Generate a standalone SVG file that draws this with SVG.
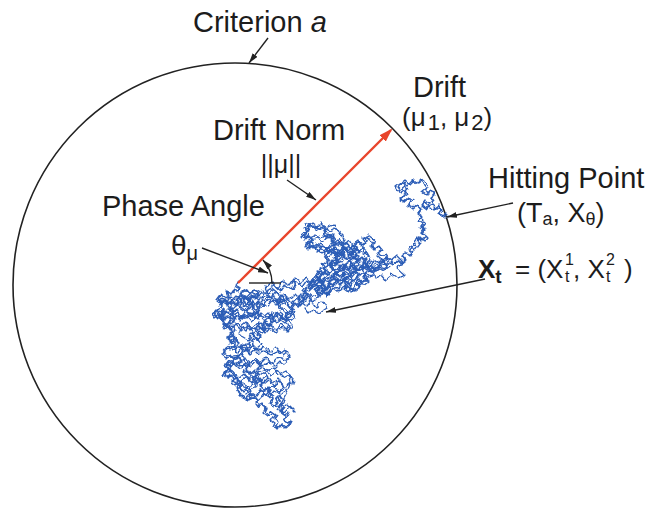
<svg xmlns="http://www.w3.org/2000/svg" width="652" height="510" viewBox="0 0 652 510">
<style>
text{font-family:"Liberation Sans",Arial,Helvetica,sans-serif;fill:#1c1c1c}
.lbl{font-size:29px}
.ln{stroke:#222;stroke-width:1.4;fill:none}
.arr{marker-end:url(#ah)}
.bm{fill:none;stroke:#2C5DB6;stroke-width:1.3;stroke-linejoin:round;stroke-linecap:round}
</style>
<defs>
<marker id="ah" viewBox="0 0 10 6" refX="10" refY="3" markerWidth="10" markerHeight="6" orient="auto" markerUnits="userSpaceOnUse"><path d="M0,0 L10,3 L0,6 z" fill="#222"/></marker>
<marker id="rah" viewBox="0 0 14 9" refX="12" refY="4.5" markerWidth="14" markerHeight="9" orient="auto" markerUnits="userSpaceOnUse"><path d="M0,0 L14,4.5 L0,9 z" fill="#E8452C"/></marker>
<filter id="jit1" x="-10%" y="-10%" width="120%" height="120%"><feTurbulence type="fractalNoise" baseFrequency="0.09" numOctaves="2" seed="4" result="n"/><feDisplacementMap in="SourceGraphic" in2="n" scale="8" xChannelSelector="R" yChannelSelector="G"/></filter>
<filter id="jit2" x="-10%" y="-10%" width="120%" height="120%"><feTurbulence type="fractalNoise" baseFrequency="0.11" numOctaves="2" seed="17" result="n"/><feDisplacementMap in="SourceGraphic" in2="n" scale="8" xChannelSelector="G" yChannelSelector="B"/></filter>
<filter id="jit3" x="-10%" y="-10%" width="120%" height="120%"><feTurbulence type="fractalNoise" baseFrequency="0.13" numOctaves="2" seed="31" result="n"/><feDisplacementMap in="SourceGraphic" in2="n" scale="7" xChannelSelector="B" yChannelSelector="R"/></filter>
<polyline id="walk" points="238,283 236,287 240,289 237,292 233,290 230,294 226,292 228,297 224,299 220,296 217,300 221,303 225,301 227,305 231,302 234,306 238,303 236,299 241,297 244,300 242,304 246,306 250,303 248,299 252,296 255,299 259,297 257,293 253,291 250,294 247,290 243,292 240,295 245,297 249,301 253,305 251,309 255,312 258,309 256,305 260,303 262,307 259,312 255,316 251,314 247,318 243,315 240,319 236,316 232,319 228,316 224,319 220,316 216,319 213,315 217,312 221,314 224,310 228,312 231,309 233,313 230,317 234,320 232,324 229,322 226,326 223,324 226,329 230,327 233,331 230,335 227,339 231,342 235,339 238,343 236,347 232,350 229,347 225,350 222,354 226,357 230,355 233,359 237,356 240,360 237,364 241,367 245,364 248,368 245,372 249,375 253,372 256,376 252,379 255,383 259,380 262,384 259,388 263,391 267,388 270,392 268,396 272,399 269,403 273,406 277,403 275,399 279,397 282,401 279,405 283,408 280,412 284,415 288,413 286,417 283,420 287,423 291,421 289,425 285,428 281,425 278,429 274,427 276,423 272,420 275,416 271,413 268,416 264,413 266,409 262,406 258,408 255,404 258,400 254,397 250,400 247,396 250,392 246,389 242,392 239,388 242,384 238,381 235,385 231,382 234,378 230,375 227,379 223,376 226,372 229,368 225,365 228,361 232,364 235,360 239,356 243,352 240,348 244,345 248,348 252,345 249,341 253,338 257,341 260,337 256,334 259,330 263,333 266,329 262,326 265,322 269,325 272,321 268,318 271,314 275,317 278,313 282,316 280,320 284,323 287,319 285,315 289,312 292,315 295,311 291,308 294,304 298,307 301,303 297,300 300,296 304,299 307,295 303,292 306,288 310,291 313,287 309,284 312,280 316,283 319,279 315,276 318,272 322,275 325,271 329,274 332,270 328,267 331,263 335,266 338,262 334,259 337,255 341,258 344,254 340,251 336,254 333,250 329,253 326,249 322,252 318,249 315,245 311,248 308,244 312,241 309,237 305,240 302,236 306,233 310,230 307,227 311,224 315,227 318,231 322,228 326,231 323,235 327,238 331,235 334,239 330,242 334,245 338,242 342,246 346,243 349,247 345,250 348,254 352,251 356,255 353,259 357,262 361,259 364,263 360,266 356,269 352,266 349,270 345,267 341,271 344,275 340,278 336,275 333,279 337,282 333,286 329,283 326,287 330,290 327,294 323,291 320,295 316,292 319,288 315,285 311,289 308,286 312,282 316,279 320,282 324,278 328,281 332,277 336,273 340,270 344,266 348,263 352,260 349,256 353,253 357,250 354,246 358,243 362,246 366,243 363,239 367,236 371,239 374,243 370,246 374,250 378,247 381,251 377,254 381,258 385,255 388,259 384,262 387,266 383,269 379,266 376,270 372,267 369,271 373,274 369,277 365,274 362,278 366,281 362,284 358,281 355,285 359,288 355,291 351,288 348,292 344,289 347,285 343,282 346,278 350,275 354,272 358,269 362,266 366,269 370,265 374,262 378,265 382,262 386,265 390,262 394,265 397,261 401,264 405,261 402,257 406,254 410,257 413,253 409,250 412,246 416,249 419,245 415,242 418,238 422,241 425,237 421,234 424,230 420,227 423,223 419,220 422,216 418,213 421,209 417,206 413,209 409,206 412,202 408,199 404,202 400,199 403,195 407,192 403,189 399,192 396,188 400,185 404,182 408,185 412,181 416,184 420,181 424,184 427,188 423,191 427,194 431,191 434,195 430,198 433,202 429,205 425,202 422,206 426,209 430,206 434,210 438,207 442,211 439,215 443,218 447,215"/>
<path id="scrib" d="M330,268 333,262 338,265 336,259 342,261 345,256 340,253 343,248 349,251 351,246 355,250 352,256 358,257 356,263 361,268 355,270 350,274 352,279 346,281 341,285 336,281 332,285 327,280 322,284 318,278 324,274 321,268 327,265 325,259 330,256 334,251 329,247 332,242 338,246 341,240 346,244 350,240 353,245 358,241 361,248 366,251 362,256 368,259 364,264 369,268 364,272 359,276 353,280 349,284 343,279 338,276 334,270 339,268 344,263 348,269 353,264 M232,300 236,296 242,301 238,306 244,309 249,306 247,312 253,316 258,320 262,315 267,319 272,314 276,320 271,325 265,327 260,324 256,329 250,326 246,331 241,327 237,333 243,336 248,339 253,335 258,340 262,345 257,349 252,353 247,350 242,355 246,361 251,364 256,360 260,366 255,371 260,376 265,372 268,378 263,383 M300,300 306,305 311,299 316,306 322,302 326,309 320,313 314,309 309,314 304,308 M378,262 384,256 390,260 396,255 402,261 398,268 404,273 398,279 392,275 386,280 381,274 376,279 372,272 379,268 385,271 391,266"/>
<path id="scrib2" d="M215,312 221,306 219,299 226,303 231,296 236,301 241,294 247,298 252,292 259,297 263,290 269,295 273,289 279,294 284,299 278,303 283,309 289,313 284,318 279,314 273,319 268,313 262,318 257,312 251,317 246,311 240,316 236,309 230,314 225,309 220,316 223,322 229,326 234,321 240,327 246,322 251,329 257,324 263,330 268,324 274,329 280,324 286,330 290,325 287,319 293,314 290,306 286,301 281,296 276,301 270,298 265,304 259,301 254,307 248,303 243,308 237,304 232,309 227,303 222,298 218,305 M230,333 236,338 230,343 236,349 242,344 247,350 253,345 259,351 264,346 270,352 275,347 281,353 286,349 289,356 283,361 278,357 272,363 266,358 260,364 254,359 248,366 243,360 237,366 232,361 227,367 232,373 238,378 244,373 249,380 255,375 261,381 267,376 272,383 278,379 283,385 278,391 272,388 267,394 261,390 256,397 250,392 245,398 240,393 235,387 241,383 247,386 253,384 258,370 263,367 269,371 275,368 280,374 286,371 291,377 289,384 284,392 280,399 275,405 281,410 287,404 292,409 M318,290 324,284 319,277 326,272 321,265 328,260 324,252 331,248 337,253 342,246 348,251 354,246 359,252 365,249 369,256 363,261 368,267 362,272 366,279 360,284 354,280 349,287 343,283 337,289 331,284 326,291 321,286 327,280 333,276 339,280 345,274 351,278 356,272 352,265 358,260 352,255 346,259 340,254 335,260 329,265 335,270 341,266 347,270 353,265 347,260 M302,238 307,232 303,226 310,223 316,228 321,223 327,228 333,225 338,231 343,236 339,242 345,247 339,250 333,245 327,249 321,243 315,248 310,243 305,246 309,238 315,235 321,238 327,233 332,239 M262,300 268,294 265,287 272,283 278,288 283,281 289,286 294,279 300,284 305,277 311,282 316,275 320,281 314,287 318,294 312,298 306,293 300,299 295,294 289,300 284,295 278,301 272,296 267,302"/>
</defs>
<rect width="652" height="510" fill="#fff"/>
<g id="criterion-boundary"><circle cx="235" cy="285" r="222" fill="none" stroke="#222" stroke-width="1.6"/></g>
<g id="brownian-path">
<use href="#walk" class="bm" filter="url(#jit1)"/>
<use href="#walk" class="bm" filter="url(#jit2)" transform="translate(1,-1)"/>
<use href="#scrib" class="bm" filter="url(#jit1)"/>
<use href="#scrib2" class="bm" filter="url(#jit3)"/>
<use href="#scrib2" class="bm" filter="url(#jit2)" transform="translate(2,3)"/>
</g>
<g id="drift-vector"><line x1="238" y1="283" x2="391" y2="130" stroke="#E8452C" stroke-width="2.4" marker-end="url(#rah)"/></g>
<g id="phase-angle-mark">
<line class="ln" x1="249" y1="283" x2="281" y2="283"/>
<path class="ln arr" d="M272,283 A34,34 0 0 0 263,260"/>
</g>
<g id="label-criterion"><text class="lbl" x="193" y="32">Criterion <tspan font-style="italic">a</tspan></text></g>
<g id="label-drift">
<text class="lbl" x="413" y="97">Drift</text>
<text x="402" y="126" font-size="26">(μ<tspan dx="2" dy="4" font-size="22">1</tspan><tspan dy="-4">, μ</tspan><tspan dx="2" dy="4" font-size="22">2</tspan><tspan dy="-4">)</tspan></text>
</g>
<g id="label-drift-norm">
<text class="lbl" x="213" y="140">Drift Norm</text>
<text x="281" y="173" font-size="25" text-anchor="middle">||μ||</text>
</g>
<g id="label-phase-angle">
<text class="lbl" x="102" y="216">Phase Angle</text>
<text x="171" y="255" font-size="28">θ<tspan font-size="20" dy="5">μ</tspan></text>
</g>
<g id="label-hitting-point">
<text class="lbl" x="488" y="188">Hitting Point</text>
<text x="517" y="222" font-size="27">(T<tspan font-size="18" dy="3">a</tspan><tspan dy="-3">, X</tspan><tspan font-size="18" dy="3">θ</tspan><tspan dy="-3">)</tspan></text>
</g>
<g id="label-xt">
<text x="478" y="278" font-size="26" font-weight="bold">X<tspan font-size="19" dy="5">t</tspan></text>
<text x="515" y="278" font-size="26">= (X</text>
<text x="565" y="265" font-size="16">1</text>
<text x="565" y="282" font-size="16">t</text>
<text x="573" y="278" font-size="26">, X</text>
<text x="606" y="265" font-size="16">2</text>
<text x="606" y="282" font-size="16">t</text>
<text x="624" y="278" font-size="26">)</text>
</g>
<g id="connectors">
<line class="ln arr" x1="268" y1="38" x2="249" y2="63"/>
<line class="ln arr" x1="287" y1="180" x2="316" y2="200"/>
<line class="ln arr" x1="202" y1="248" x2="268" y2="273"/>
<line class="ln arr" x1="513" y1="203" x2="447" y2="217"/>
<line class="ln arr" x1="485" y1="279" x2="326" y2="312"/>
</g>
</svg>
